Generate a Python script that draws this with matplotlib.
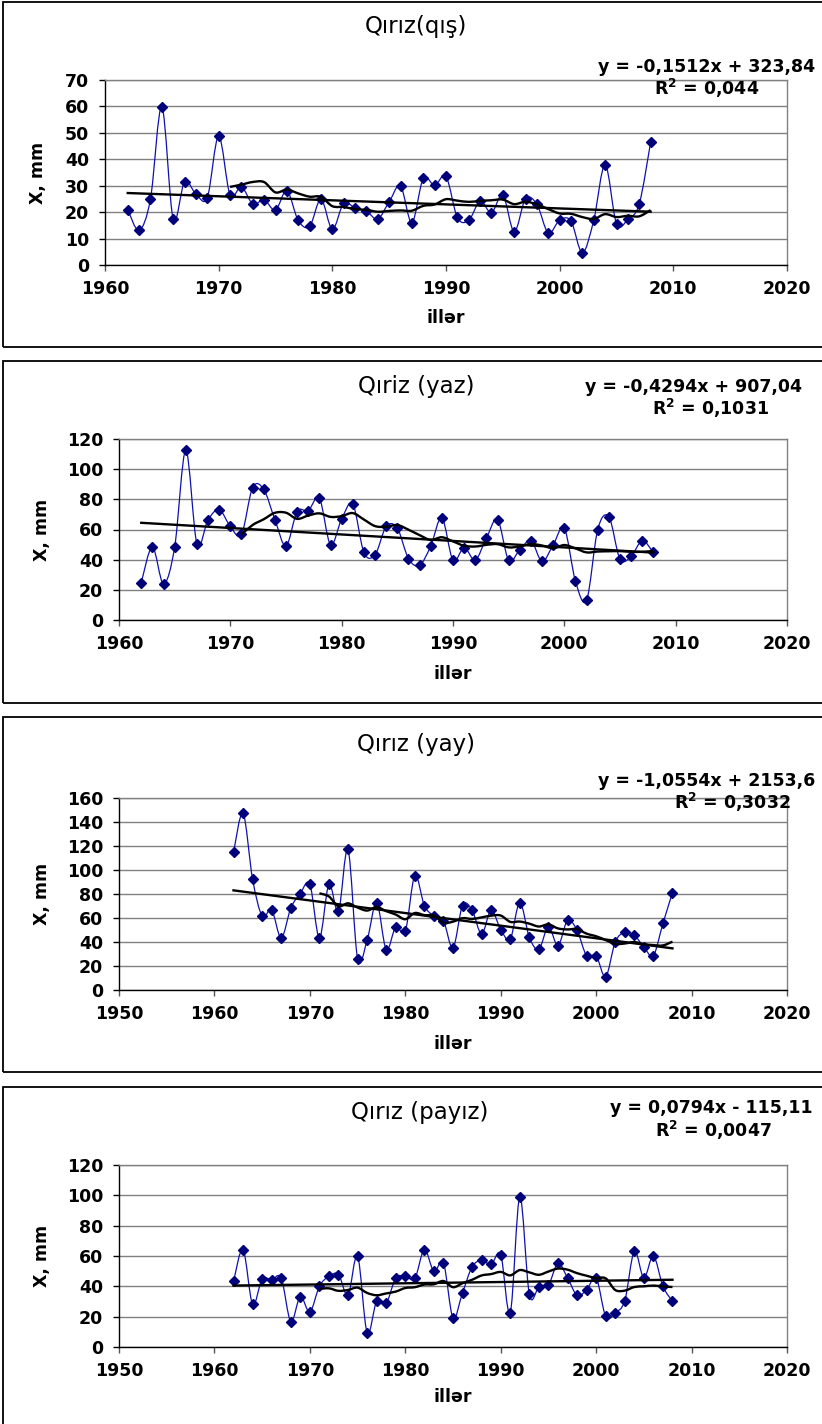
import numpy as np
import matplotlib
matplotlib.use("Agg")
import matplotlib.pyplot as plt
from matplotlib.path import Path
from matplotlib.patches import PathPatch, Rectangle

plt.rcParams['font.family'] = ['DejaVu Sans']

years = np.arange(1962, 2009)

winter = [21, 13.1, 25, 59.8, 17.4, 31.5, 26.9, 25.5, 48.8, 26.5,
          29.6, 23.1, 24.6, 20.8, 28.1, 16.9, 14.6, 24.9, 13.5, 23.4,
          21.5, 20.4, 17.4, 23.9, 29.9, 16, 32.8, 30.1, 33.5, 18,
          16.9, 24.1, 19.8, 26.5, 12.6, 25.1, 22.9, 12.1, 17, 16.6,
          4.6, 17, 38, 15.6, 17.3, 23.1, 46.4]
spring = [24.8, 48.4, 24, 48.4, 112.5, 50.5, 66.4, 73.2, 62, 56.7,
          87.7, 86.6, 66.6, 49, 71.9, 72.5, 80.7, 49.9, 67, 76.9,
          44.8, 43.3, 62, 60.9, 40.7, 36.3, 49, 67.7, 39.6, 47.9,
          39.8, 54.3, 66.6, 39.6, 46.6, 52.7, 38.9, 49.7, 60.9, 25.7,
          13.2, 60, 68.4, 40.4, 42.4, 52.5, 44.8]
summer = [114.6, 147.2, 92.3, 61.6, 66.6, 43.4, 68.2, 80.4, 88.1, 43.4,
          88.1, 65.5, 117.1, 26.2, 41.4, 72.9, 33.7, 52.5, 48.9, 95.3,
          70.4, 61.6, 57.7, 35.1, 70.4, 66.6, 46.7, 66.6, 50.3, 42.5,
          72.9, 43.9, 34, 52.8, 37, 58, 49.7, 28.5, 28.5, 11,
          40, 48.1, 45.6, 35.9, 28.7, 55.5, 81.2]
autumn = [43.2, 64.2, 28.2, 44.8, 44.3, 45.4, 16.8, 33.2, 23.1, 40,
          46.7, 47.8, 34.1, 60, 9.4, 30.1, 28.8, 45.4, 46.7, 45.2,
          64.2, 49.8, 55.5, 19.2, 35.8, 52.8, 57.2, 54.4, 60.9, 22.5,
          99.1, 34.7, 39.5, 40.8, 55.2, 45.6, 34.1, 37.6, 45.6, 20.3,
          22.5, 30.6, 63.1, 45.6, 60, 40, 30.1]

titles = ["Qırız(qış)", "Qıriz (yaz)", "Qırız (yay)", "Qırız (payız)"]
equations = ["y = -0,1512x + 323,84", "y = -0,4294x + 907,04",
             "y = -1,0554x + 2153,6", "y = 0,0794x - 115,11"]
r2_labels = ["0,044", "0,1031", "0,3032", "0,0047"]
x_label = "illər"
y_label = "X, mm"

W, H = 822, 1424
fig = plt.figure(figsize=(W / 100, H / 100), dpi=100)


def fx(px):
    return px / W


def fy(py):
    return 1 - py / H


def smooth_path(x, y):
    x = np.asarray(x, float)
    y = np.asarray(y, float)
    n = len(x)
    verts = [(x[0], y[0])]
    codes = [Path.MOVETO]
    for i in range(n - 1):
        im1 = max(i - 1, 0)
        ip2 = min(i + 2, n - 1)
        c1 = (x[i] + (x[i + 1] - x[im1]) / 6, y[i] + (y[i + 1] - y[im1]) / 6)
        c2 = (x[i + 1] - (x[ip2] - x[i]) / 6, y[i + 1] - (y[ip2] - y[i]) / 6)
        verts += [c1, c2, (x[i + 1], y[i + 1])]
        codes += [Path.CURVE4] * 3
    return Path(verts, codes)


series = [winter, spring, summer, autumn]
# layout in pixels: (left, right, top, bottom)
axes_px = [(105, 787, 80, 265), (119, 787, 439, 620),
           (119, 787, 798, 990), (119, 787, 1165, 1347)]
ylims = [(0, 70, 10), (0, 120, 20), (0, 160, 20), (0, 120, 20)]
xlims = [(1960, 2020), (1960, 2020), (1950, 2020), (1950, 2020)]
boxes_px = [(3, 2, 347), (3, 361, 703), (3, 717, 1072), (3, 1087, 1430)]
title_y = [27, 387, 744, 1112]
title_x = [416, 416, 416, 420]
eq_pos = [(598, 67), (585, 387), (598, 781), (610, 1108)]
r2_pos = [(654, 88), (652, 408), (674, 802), (655, 1130)]
xlab_y = [318, 674, 1044, 1397]
ylab_x = [38, 42, 42, 42]

for k in range(4):
    bl, bt, bb = boxes_px[k]
    fig.add_artist(Rectangle((fx(bl), fy(bb)), fx(W + 20 - bl), fy(bt) - fy(bb),
                             transform=fig.transFigure, fill=False,
                             edgecolor='black', linewidth=1.3))

    l, r, t, b = axes_px[k]
    ax = fig.add_axes([fx(l), fy(b), fx(r - l), fy(t) - fy(b)])
    vals = np.asarray(series[k], float)
    y0, y1, ys = ylims[k]
    x0, x1 = xlims[k]
    ax.set_xlim(x0, x1)
    ax.set_ylim(y0, y1)
    ax.set_yticks(np.arange(y0, y1 + 1, ys))
    ax.set_xticks(np.arange(x0, x1 + 1, 10))
    ax.yaxis.grid(True, color='#808080', linewidth=1.0)
    ax.set_axisbelow(True)
    for s in ['top', 'right']:
        ax.spines[s].set_color('#808080')
        ax.spines[s].set_linewidth(1.0)
    for s in ['left', 'bottom']:
        ax.spines[s].set_color('black')
        ax.spines[s].set_linewidth(1.0)
    ax.tick_params(axis='y', length=4.5, width=1, pad=7, labelsize=12.5)
    ax.tick_params(axis='x', length=4, width=1, pad=7, labelsize=12.5,
                   color='#555555')
    for lab in ax.get_xticklabels() + ax.get_yticklabels():
        lab.set_fontweight('bold')

    # smoothed data line
    ax.add_patch(PathPatch(smooth_path(years, vals), fill=False,
                           edgecolor='#1010B0', linewidth=0.9, zorder=3))
    ax.plot(years, vals, linestyle='none', marker='D', markersize=5.5,
            color='#00007A', zorder=4)

    # 10-year moving average
    ma = np.convolve(vals, np.ones(10) / 10, mode='valid')
    ax.add_patch(PathPatch(smooth_path(years[9:], ma), fill=False,
                           edgecolor='black', linewidth=1.7, zorder=5))
    # linear trend
    coef = np.polyfit(years, vals, 1)
    tx = np.array([years[0], years[-1]])
    ax.plot(tx, np.polyval(coef, tx), color='black', linewidth=1.7, zorder=5)

    fig.text(fx(title_x[k]), fy(title_y[k]), titles[k], ha='center',
             va='center', fontsize=16.5)
    ex, ey = eq_pos[k]
    fig.text(fx(ex), fy(ey), equations[k], ha='left', va='center',
             fontsize=12.5, fontweight='bold')
    rx, ry = r2_pos[k]
    fig.text(fx(rx), fy(ry), "R$^\\mathbf{2}$ = " + r2_labels[k], ha='left',
             va='center', fontsize=12.5, fontweight='bold')
    fig.text(fx((l + r) / 2), fy(xlab_y[k]), x_label, ha='center',
             va='center', fontsize=12.5, fontweight='bold')
    fig.text(fx(ylab_x[k]), fy((t + b) / 2), y_label, ha='center',
             va='center', rotation=90, fontsize=12.5, fontweight='bold')

fig.savefig("out.png", dpi=100)
